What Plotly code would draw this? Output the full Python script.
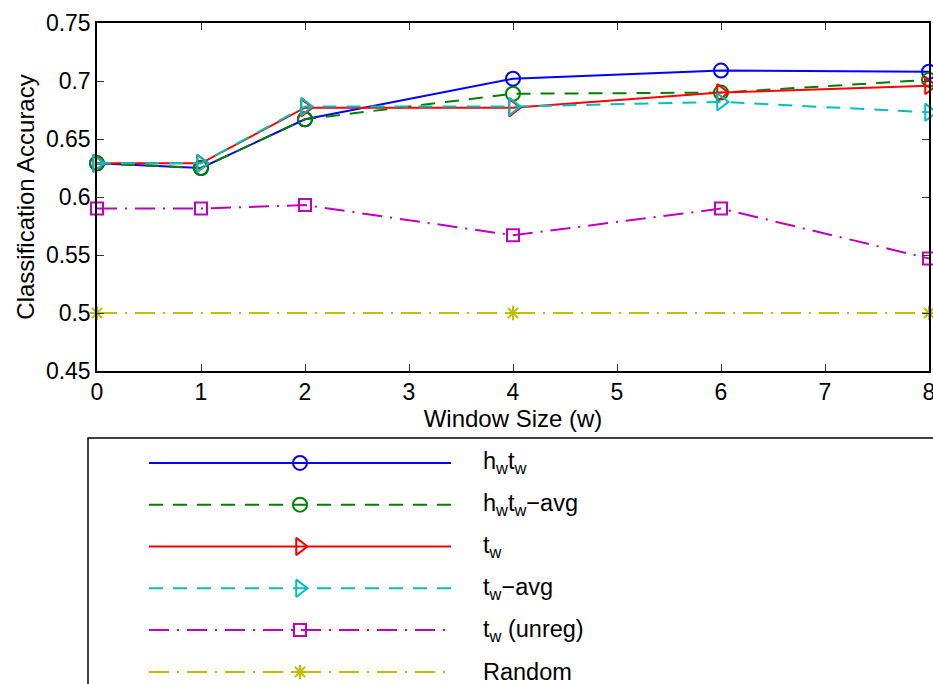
import plotly.graph_objects as go

W, H = 933, 684

# ---- data ----
window_sizes = [0, 1, 2, 4, 6, 8]
hwtw = [0.629, 0.625, 0.667, 0.702, 0.709, 0.708]
hwtw_avg = [0.629, 0.625, 0.667, 0.689, 0.690, 0.701]
tw = [0.629, 0.629, 0.677, 0.677, 0.690, 0.696]
tw_avg = [0.629, 0.629, 0.678, 0.678, 0.682, 0.673]
tw_unreg = [0.590, 0.590, 0.593, 0.567, 0.590, 0.547]
random_x = [0, 4, 8]
random_y = [0.5, 0.5, 0.5]

labels = ["h<sub>w</sub>t<sub>w</sub>", "h<sub>w</sub>t<sub>w</sub>\u2212avg", "t<sub>w</sub>",
          "t<sub>w</sub>\u2212avg", "t<sub>w</sub> (unreg)", "Random"]
y_ticks = [0.45, 0.5, 0.55, 0.6, 0.65, 0.7, 0.75]
y_ticktext = ["0.45", "0.5", "0.55", "0.6", "0.65", "0.7", "0.75"]
x_ticks = [0, 1, 2, 3, 4, 5, 6, 7, 8]

FONT = "Liberation Sans, Arial, Helvetica, sans-serif"

styles = [
    dict(color="#0000ff", dash="solid", symbol="circle-open", size=14),
    dict(color="#008000", dash="14px,10px", symbol="circle-open", size=14),
    dict(color="#ff0000", dash="solid", symbol="triangle-right-open", size=15),
    dict(color="#00bfbf", dash="14px,10px", symbol="triangle-right-open", size=15),
    dict(color="#bf00bf", dash="20px,8px,2px,8px", symbol="square-open", size=12),
    dict(color="#bfbf00", dash="20px,8px,2px,8px", symbol="asterisk-open", size=12),
]

series = [
    (window_sizes, hwtw),
    (window_sizes, hwtw_avg),
    (window_sizes, tw),
    (window_sizes, tw_avg),
    (window_sizes, tw_unreg),
    (random_x, random_y),
]

fig = go.Figure()

for (xs, ys), st, name in zip(series, styles, labels):
    fig.add_trace(go.Scatter(
        x=xs, y=ys, mode="lines+markers", name=name, showlegend=False,
        cliponaxis=False,
        line=dict(color=st["color"], width=2, dash=st["dash"]),
        marker=dict(symbol=st["symbol"], size=st["size"], color=st["color"],
                    line=dict(color=st["color"], width=2)),
        xaxis="x", yaxis="y",
    ))

# ---- manual legend drawn on a hidden auxiliary axis ----
row_px = 41.8
top_px = 442
for i, (st, name) in enumerate(zip(styles, labels)):
    fig.add_trace(go.Scatter(
        x=[0, 0.5, 1], y=[i, i, i], mode="lines", showlegend=False,
        line=dict(color=st["color"], width=2, dash=st["dash"]),
        xaxis="x2", yaxis="y2", hoverinfo="skip", cliponaxis=False,
    ))
    fig.add_trace(go.Scatter(
        x=[0.5], y=[i], mode="markers", showlegend=False,
        marker=dict(symbol=st["symbol"], size=st["size"], color=st["color"],
                    line=dict(color=st["color"], width=2)),
        xaxis="x2", yaxis="y2", hoverinfo="skip", cliponaxis=False,
    ))
    fig.add_annotation(
        x=481 / W, xref="paper", y=i, yref="y2", text=name, showarrow=False,
        xanchor="left", yanchor="middle", font=dict(family=FONT, size=23.5, color="black"),
    )

fig.add_shape(type="rect", xref="paper", yref="paper",
              x0=88 / W, x1=1.02, y0=-0.02, y1=1 - 438 / H,
              line=dict(color="black", width=1.5), fillcolor="rgba(0,0,0,0)")

axis_common = dict(showline=True, linecolor="black", linewidth=1.5, mirror="ticks",
                   ticks="inside", ticklen=7, tickwidth=1, tickcolor="#333",
                   showgrid=False, zeroline=False, automargin=False,
                   ticklabeloverflow="allow",
                   tickfont=dict(family=FONT, size=23, color="black"))

fig.update_layout(
    width=W, height=H,
    margin=dict(l=0, r=0, t=0, b=0, autoexpand=False),
    paper_bgcolor="white", plot_bgcolor="white",
    font=dict(family=FONT, color="black"),
    xaxis=dict(domain=[97 / W, 929 / W], range=[0, 8], tickvals=x_ticks,
               title=dict(text="Window Size (w)", font=dict(family=FONT, size=24), standoff=0),
               anchor="y", **axis_common),
    yaxis=dict(domain=[1 - 371 / H, 1 - 23 / H], range=[0.45, 0.75], tickvals=y_ticks,
               ticktext=y_ticktext,
               title=dict(text="Classification Accuracy", font=dict(family=FONT, size=24), standoff=4),
               anchor="x", **axis_common),
    xaxis2=dict(domain=[149 / W, 451 / W], range=[0, 1], visible=False, anchor="y2"),
    yaxis2=dict(domain=[0, (H - top_px) / H], range=[-0.5 + (H - top_px) / row_px, -0.5],
                visible=False, anchor="x2"),
    showlegend=False,
)

fig.write_html("out.html")
